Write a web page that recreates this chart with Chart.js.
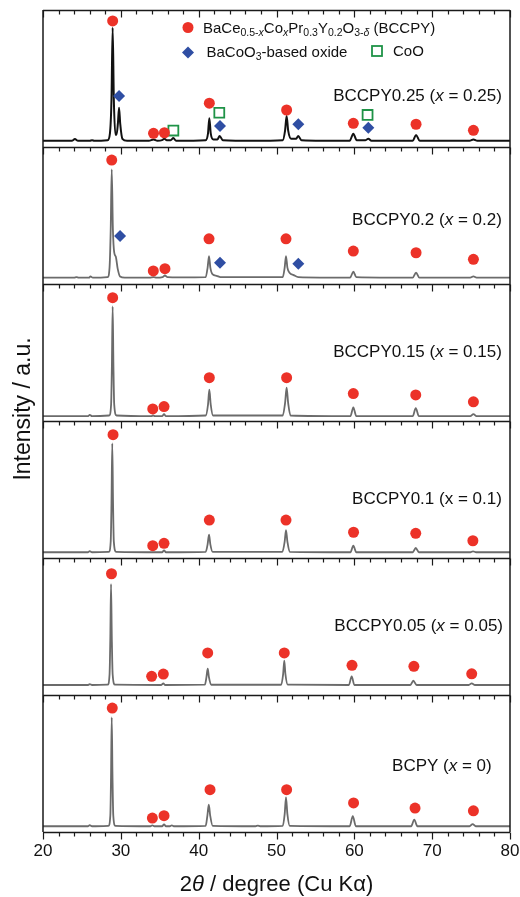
<!DOCTYPE html>
<html>
<head>
<meta charset="utf-8">
<title>XRD patterns BCCPY</title>
<script src="https://cdn.jsdelivr.net/npm/chart.js@4.4.1/dist/chart.umd.min.js"></script>
<style>
  html, body { margin: 0; padding: 0; background: #fff; }
  #wrap { width: 520px; height: 897px; }
</style>
</head>
<body>
<div id="wrap"><canvas id="xrd" width="520" height="897"></canvas></div>
<script>
// Sample labels, top panel first
const sampleNames = ['BCCPY0.25', 'BCCPY0.2', 'BCCPY0.15', 'BCCPY0.1', 'BCCPY0.05', 'BCPY'];
const sampleX = ['0.25', '0.2', '0.15', '0.1', '0.05', '0'];
const xTicks = [20, 30, 40, 50, 60, 70, 80];

// Patterns (2theta in degree, intensity normalised to panel height)
const theta025 = [20, 22.0, 23.7, 24.1, 24.5, 26.0, 26.3, 26.6, 28.3, 28.6, 28.8, 28.95, 29.1, 29.3, 29.45, 29.62, 29.77, 29.92, 30.2, 30.8, 33.6, 34.2, 34.7, 35.3, 35.6, 35.9, 36.4, 36.75, 37.1, 40.9, 41.2, 41.37, 41.55, 41.9, 42.4, 42.7, 43.1, 47.0, 50.8, 51.1, 51.3, 51.5, 51.9, 52.5, 52.8, 53.2, 59.4, 59.87, 60.3, 61.4, 61.8, 62.2, 67.5, 67.93, 68.4, 74.8, 75.3, 75.8, 80];
const int025 = [0.045, 0.045, 0.045, 0.058, 0.045, 0.045, 0.05, 0.045, 0.05, 0.1, 0.35, 0.87, 0.35, 0.09, 0.09, 0.17, 0.287, 0.17, 0.06, 0.045, 0.045, 0.055, 0.045, 0.05, 0.06, 0.05, 0.05, 0.065, 0.045, 0.05, 0.1, 0.21, 0.1, 0.055, 0.055, 0.08, 0.05, 0.045, 0.05, 0.12, 0.226, 0.12, 0.06, 0.06, 0.08, 0.05, 0.045, 0.097, 0.05, 0.05, 0.06, 0.045, 0.045, 0.088, 0.045, 0.045, 0.055, 0.045, 0.045];

const theta020 = [20, 24.0, 24.3, 24.6, 25.9, 26.1, 26.4, 28.3, 28.55, 28.7, 28.83, 28.98, 29.15, 29.35, 29.6, 29.9, 30.5, 33.7, 34.2, 34.6, 35.35, 35.67, 36.0, 37.5, 40.9, 41.15, 41.33, 41.5, 41.8, 42.3, 42.8, 50.8, 51.05, 51.22, 51.4, 51.7, 52.2, 52.8, 59.45, 59.87, 60.25, 67.5, 67.93, 68.35, 74.9, 75.3, 75.7, 80];
const int020 = [0.046, 0.046, 0.05, 0.046, 0.046, 0.055, 0.046, 0.05, 0.12, 0.4, 0.837, 0.4, 0.23, 0.2, 0.11, 0.055, 0.046, 0.046, 0.05, 0.046, 0.05, 0.062, 0.05, 0.048, 0.05, 0.12, 0.204, 0.12, 0.07, 0.06, 0.05, 0.05, 0.12, 0.204, 0.12, 0.08, 0.065, 0.05, 0.046, 0.09, 0.05, 0.046, 0.082, 0.046, 0.046, 0.055, 0.046, 0.046];

const theta015 = [20, 25.8, 26.0, 26.3, 28.5, 28.75, 28.85, 28.95, 29.05, 29.15, 29.45, 33.9, 34.15, 34.4, 35.3, 35.55, 35.8, 40.9, 41.2, 41.37, 41.55, 41.85, 50.8, 51.1, 51.3, 51.5, 51.8, 59.5, 59.87, 60.25, 67.5, 67.89, 68.3, 74.9, 75.3, 75.7, 80];
const int015 = [0.035, 0.035, 0.045, 0.035, 0.04, 0.12, 0.4, 0.836, 0.4, 0.12, 0.04, 0.035, 0.04, 0.035, 0.035, 0.05, 0.035, 0.04, 0.12, 0.228, 0.12, 0.04, 0.04, 0.13, 0.243, 0.13, 0.04, 0.035, 0.1, 0.035, 0.035, 0.093, 0.035, 0.035, 0.05, 0.035, 0.035];

const theta010 = [20, 25.8, 26.0, 26.3, 28.45, 28.7, 28.8, 28.9, 29.0, 29.1, 29.4, 35.3, 35.55, 35.8, 40.9, 41.15, 41.33, 41.5, 41.8, 50.75, 51.05, 51.22, 51.4, 51.7, 59.5, 59.87, 60.25, 67.5, 67.89, 68.3, 74.9, 75.25, 75.65, 80];
const int010 = [0.042, 0.042, 0.05, 0.042, 0.045, 0.12, 0.4, 0.837, 0.4, 0.12, 0.045, 0.042, 0.055, 0.042, 0.045, 0.1, 0.17, 0.1, 0.045, 0.045, 0.12, 0.204, 0.12, 0.045, 0.042, 0.09, 0.042, 0.042, 0.073, 0.042, 0.042, 0.049, 0.042, 0.042];

const theta005 = [20, 25.8, 26.0, 26.3, 28.3, 28.55, 28.65, 28.74, 28.84, 28.95, 29.25, 35.2, 35.46, 35.7, 40.8, 41.0, 41.16, 41.32, 41.6, 50.6, 50.85, 51.0, 51.15, 51.45, 59.3, 59.66, 60.0, 67.2, 67.58, 68.0, 74.7, 75.08, 75.5, 80];
const int005 = [0.073, 0.073, 0.08, 0.073, 0.075, 0.15, 0.42, 0.81, 0.42, 0.15, 0.075, 0.073, 0.085, 0.073, 0.075, 0.13, 0.192, 0.13, 0.075, 0.075, 0.15, 0.25, 0.15, 0.075, 0.073, 0.136, 0.073, 0.073, 0.104, 0.073, 0.073, 0.085, 0.073, 0.073];

const theta000 = [20, 25.8, 26.0, 26.3, 28.4, 28.65, 28.74, 28.83, 28.93, 29.03, 29.3, 33.8, 34.05, 34.3, 35.3, 35.55, 35.8, 36.3, 36.55, 36.8, 40.9, 41.12, 41.3, 41.48, 41.8, 47.3, 47.6, 47.9, 50.8, 51.05, 51.22, 51.4, 51.7, 59.4, 59.8, 60.2, 67.3, 67.7, 68.1, 74.8, 75.2, 75.6, 80];
const int000 = [0.042, 0.042, 0.05, 0.042, 0.045, 0.12, 0.4, 0.837, 0.4, 0.12, 0.045, 0.042, 0.048, 0.042, 0.042, 0.055, 0.042, 0.042, 0.048, 0.042, 0.045, 0.12, 0.2, 0.12, 0.045, 0.042, 0.047, 0.042, 0.045, 0.13, 0.253, 0.13, 0.045, 0.042, 0.115, 0.042, 0.042, 0.09, 0.042, 0.042, 0.058, 0.042, 0.042];

// Phase markers: BCCPY perovskite (red), BaCoO3-based oxide (blue), CoO (green)
const perovTheta025 = [28.95, 34.2, 35.6, 41.37, 51.3, 59.87, 67.93, 75.3];
const perovInt025 = [0.92, 0.10, 0.104, 0.32, 0.27, 0.173, 0.166, 0.122];
const perovTheta020 = [28.83, 34.17, 35.67, 41.33, 51.22, 59.87, 67.93, 75.3];
const perovInt020 = [0.905, 0.095, 0.112, 0.33, 0.33, 0.24, 0.228, 0.18];
const perovTheta015 = [28.95, 34.1, 35.55, 41.37, 51.3, 59.87, 67.89, 75.3];
const perovInt015 = [0.9, 0.088, 0.105, 0.316, 0.316, 0.2, 0.19, 0.14];
const perovTheta010 = [29.0, 34.1, 35.55, 41.37, 51.22, 59.9, 67.89, 75.23];
const perovInt010 = [0.9, 0.09, 0.107, 0.277, 0.277, 0.188, 0.18, 0.126];
const perovTheta005 = [28.8, 33.96, 35.46, 41.16, 51.0, 59.7, 67.65, 75.08];
const perovInt005 = [0.885, 0.136, 0.153, 0.307, 0.307, 0.217, 0.209, 0.155];
const perovTheta000 = [28.9, 34.05, 35.55, 41.46, 51.3, 59.9, 67.8, 75.3];
const perovInt000 = [0.905, 0.102, 0.119, 0.309, 0.309, 0.212, 0.175, 0.155];

const bacoTheta025 = [29.77, 42.74, 52.8, 61.8];
const bacoInt025 = [0.372, 0.153, 0.166, 0.14];
const bacoTheta020 = [29.9, 42.74, 52.8];
const bacoInt020 = [0.35, 0.156, 0.148];

const cooTheta025 = [36.75, 42.65, 61.7];
const cooInt025 = [0.12, 0.25, 0.234];

// label positions (2theta of right edge, height in panel)
const labelTheta = [78.95, 78.95, 78.95, 78.95, 79.1, 77.65];
const labelInt = [0.367, 0.467, 0.504, 0.428, 0.504, 0.477];

const FONT = '"Liberation Sans", Arial, Helvetica, sans-serif';
const RED = '#ec3228';
const BLUE = '#2f4ea3';
const GREEN = '#1f9347';

const traces = [
    [theta025, int025], [theta020, int020], [theta015, int015],
    [theta010, int010], [theta005, int005], [theta000, int000]
];
const perovs = [
    [perovTheta025, perovInt025], [perovTheta020, perovInt020], [perovTheta015, perovInt015],
    [perovTheta010, perovInt010], [perovTheta005, perovInt005], [perovTheta000, perovInt000]
];
const nPanels = sampleNames.length;

function toPoints(xs, ys, base) {
    return xs.map((t, i) => ({ x: t, y: ys[i] + base }));
}

const datasets = [];
traces.forEach(([xs, ys], s) => {
    const base = nPanels - 1 - s;
    datasets.push({
        label: sampleNames[s],
        data: toPoints(xs, ys, base),
        showLine: true,
        borderColor: s === 0 ? '#111111' : '#6b6b6b',
        borderWidth: s === 0 ? 2 : 1.8,
        pointRadius: 0,
        cubicInterpolationMode: 'monotone',
        order: 2
    });
});
perovs.forEach(([xs, ys], s) => {
    datasets.push({
        label: 'BCCPY ' + sampleNames[s],
        data: toPoints(xs, ys, nPanels - 1 - s),
        pointStyle: 'circle',
        pointRadius: 5.5,
        backgroundColor: RED,
        borderWidth: 0,
        order: 1
    });
});
datasets.push({
    label: 'BaCoO3 0.25', data: toPoints(bacoTheta025, bacoInt025, 5),
    pointStyle: 'rectRot', pointRadius: 6, backgroundColor: BLUE, borderWidth: 0, order: 1
});
datasets.push({
    label: 'BaCoO3 0.2', data: toPoints(bacoTheta020, bacoInt020, 4),
    pointStyle: 'rectRot', pointRadius: 6, backgroundColor: BLUE, borderWidth: 0, order: 1
});
datasets.push({
    label: 'CoO 0.25', data: toPoints(cooTheta025, cooInt025, 5),
    pointStyle: 'rect', pointRadius: 7, backgroundColor: 'rgba(0,0,0,0)',
    borderColor: GREEN, borderWidth: 1.8, order: 1
});

// draw text made of plain / italic / subscript pieces
function richWidth(ctx, segs, size) {
    let w = 0;
    segs.forEach(([t, st]) => {
        const sub = st.includes('s');
        ctx.font = (st.includes('i') ? 'italic ' : '') + (sub ? size * 0.7 : size) + 'px ' + FONT;
        w += ctx.measureText(t).width;
    });
    return w;
}
function drawRich(ctx, segs, x, y, size) {
    ctx.textBaseline = 'middle';
    ctx.textAlign = 'left';
    segs.forEach(([t, st]) => {
        const sub = st.includes('s');
        ctx.font = (st.includes('i') ? 'italic ' : '') + (sub ? size * 0.7 : size) + 'px ' + FONT;
        ctx.fillText(t, x, sub ? y + size * 0.3 : y);
        x += ctx.measureText(t).width;
    });
}

// panel frames and inward ticks
const framePlugin = {
    id: 'frames',
    afterDatasetsDraw(chart) {
        const { ctx, chartArea: a, scales: { x, y } } = chart;
        ctx.save();
        ctx.strokeStyle = '#1a1a1a';
        ctx.lineWidth = 1.5;
        ctx.beginPath();
        for (let i = 0; i <= nPanels; i++) {
            const py = Math.round(y.getPixelForValue(i)) + 0.5;
            ctx.moveTo(a.left, py);
            ctx.lineTo(a.right, py);
        }
        ctx.moveTo(a.left, a.top);
        ctx.lineTo(a.left, a.bottom);
        ctx.moveTo(a.right, a.top);
        ctx.lineTo(a.right, a.bottom);
        ctx.stroke();

        ctx.lineWidth = 1.2;
        ctx.beginPath();
        for (let t = x.min; t <= x.max; t += 2) {
            const px = Math.round(x.getPixelForValue(t)) + 0.5;
            const len = t % 10 === 0 ? 7 : 4;
            for (let i = 0; i <= nPanels; i++) {
                const py = Math.round(y.getPixelForValue(i)) + 0.5;
                ctx.moveTo(px, py);
                ctx.lineTo(px, py + len);
            }
        }
        ctx.stroke();
        ctx.restore();
    }
};

const textPlugin = {
    id: 'texts',
    afterDraw(chart) {
        const { ctx, chartArea: a, scales: { x, y } } = chart;
        ctx.save();
        ctx.fillStyle = '#111';

        // sample labels
        sampleNames.forEach((name, s) => {
            const segs = s === 3
                ? [[name + ' (x = ' + sampleX[s] + ')', '']]
                : [[name + ' (', ''], ['x', 'i'], [' = ' + sampleX[s] + ')', '']];
            const w = richWidth(ctx, segs, 17);
            const px = x.getPixelForValue(labelTheta[s]);
            const py = y.getPixelForValue(labelInt[s] + nPanels - 1 - s);
            drawRich(ctx, segs, px - w, py, 17);
        });

        // legend symbols
        ctx.fillStyle = RED;
        ctx.beginPath();
        ctx.arc(188, 27.5, 5.5, 0, Math.PI * 2);
        ctx.fill();
        ctx.fillStyle = BLUE;
        ctx.beginPath();
        ctx.moveTo(188, 46.5); ctx.lineTo(194, 52.5); ctx.lineTo(188, 58.5); ctx.lineTo(182, 52.5);
        ctx.closePath();
        ctx.fill();
        ctx.strokeStyle = GREEN;
        ctx.lineWidth = 1.8;
        ctx.strokeRect(372, 46, 10, 10);

        ctx.fillStyle = '#111';
        drawRich(ctx, [['BaCe', ''], ['0.5-', 's'], ['x', 'si'], ['Co', ''], ['x', 'si'], ['Pr', ''],
            ['0.3', 's'], ['Y', ''], ['0.2', 's'], ['O', ''], ['3-', 's'], ['\u03B4', 'si'], [' (BCCPY)', '']],
            203, 29, 15);
        drawRich(ctx, [['BaCoO', ''], ['3', 's'], ['-based oxide', '']], 206.5, 52.5, 15);
        drawRich(ctx, [['CoO', '']], 393, 51.5, 15);

        // x axis title with italic theta
        const tSegs = [['2', ''], ['\u03B8', 'i'], [' / degree (Cu K\u03B1)', '']];
        const tw = richWidth(ctx, tSegs, 22);
        drawRich(ctx, tSegs, (a.left + a.right) / 2 - tw / 2, 885, 22);

        // y axis title
        ctx.save();
        ctx.translate(24, 409);
        ctx.rotate(-Math.PI / 2);
        ctx.font = '23px ' + FONT;
        ctx.textAlign = 'center';
        ctx.textBaseline = 'middle';
        ctx.fillText('Intensity / a.u.', 0, 0);
        ctx.restore();
        ctx.restore();
    }
};

new Chart(document.getElementById('xrd'), {
    type: 'scatter',
    data: { datasets: datasets },
    options: {
        responsive: false,
        animation: false,
        devicePixelRatio: 1,
        layout: { padding: { top: 10, right: 10, left: 0, bottom: 0 } },
        plugins: {
            legend: { display: false },
            tooltip: { enabled: false }
        },
        scales: {
            x: {
                type: 'linear',
                min: 20,
                max: 80,
                border: { display: false },
                grid: { display: false, drawTicks: false },
                afterBuildTicks: (scale) => { scale.ticks = xTicks.map(v => ({ value: v })); },
                ticks: { padding: 9, color: '#111', font: { family: FONT, size: 17 } },
                afterFit: (scale) => {
                    scale.height = 65;
                    scale.paddingLeft = 0;
                    scale.paddingRight = 0;
                }
            },
            y: {
                min: 0,
                max: nPanels,
                border: { display: false },
                grid: { display: false, drawTicks: false },
                ticks: { display: false },
                afterFit: (scale) => { scale.width = 43; }
            }
        }
    },
    plugins: [framePlugin, textPlugin]
});
</script>
</body>
</html>
